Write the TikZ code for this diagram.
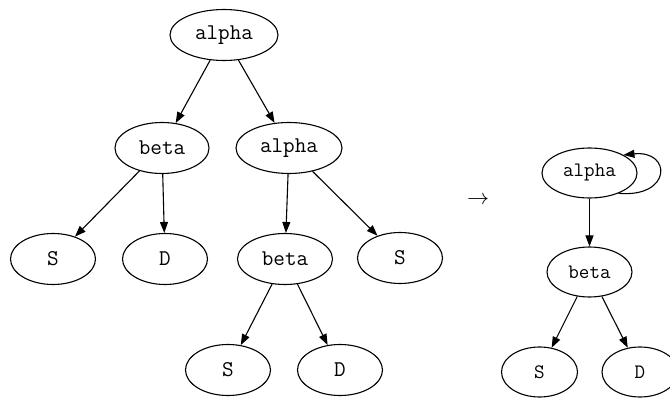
\documentclass[tikz,border=0pt]{standalone}
\usepackage{fontspec}
\usetikzlibrary{shapes.geometric,arrows.meta}
\begin{document}
\begin{tikzpicture}[x=1pt,y=-1pt,
  big/.style={ellipse,draw,line width=1.1pt,inner sep=0pt,minimum height=51pt,font=\fontsize{22.5}{24}\selectfont\ttfamily},
  small/.style={ellipse,draw,line width=1.1pt,inner sep=0pt,minimum height=50pt,font=\fontsize{20.5}{22}\selectfont\ttfamily},
  edge/.style={line width=1.1pt,-{Triangle[length=11pt,width=8pt]}}]
\useasboundingbox (0,0) rectangle (670,398);
% left tree
\node[big,minimum width=108pt] (a1) at (224,35) {alpha};
\node[big,minimum width=94pt] (b1) at (162,148) {beta};
\node[big,minimum width=106pt] (a2) at (289,148) {alpha};
\node[big,minimum width=85pt] (s1) at (53,259) {S};
\node[big,minimum width=85pt] (d1) at (165,259) {D};
\node[big,minimum width=95pt] (b2) at (285,259) {beta};
\node[big,minimum width=85pt] (s2) at (400,258) {S};
\node[big,minimum width=85pt] (s3) at (228,370) {S};
\node[big,minimum width=85pt] (d3) at (340,370) {D};
\draw[edge] (a1) -- (b1);
\draw[edge] (a1) -- (a2);
\draw[edge] (b1) -- (s1);
\draw[edge] (b1) -- (d1);
\draw[edge] (a2) -- (b2);
\draw[edge] (a2) -- (s2);
\draw[edge] (b2) -- (s3);
\draw[edge] (b2) -- (d3);
% arrow
\node[inner sep=0pt] (arr) at (478,200) {\scalebox{2.2}{$\rightarrow$}};
% right tree
\node[small,minimum width=95pt] (ra) at (589.5,173) {alpha};
\node[small,minimum width=85pt] (rb) at (589.5,272) {beta};
\node[small,minimum width=76pt] (rs) at (539.5,372) {S};
\node[small,minimum width=76pt] (rd) at (640,372) {D};
\draw[edge] (ra) -- (rb);
\draw[edge] (rb) -- (rs);
\draw[edge] (rb) -- (rd);
\draw[edge] (ra.-35) .. controls (672,198) and (672,150) .. (ra.28);
\end{tikzpicture}
\end{document}
